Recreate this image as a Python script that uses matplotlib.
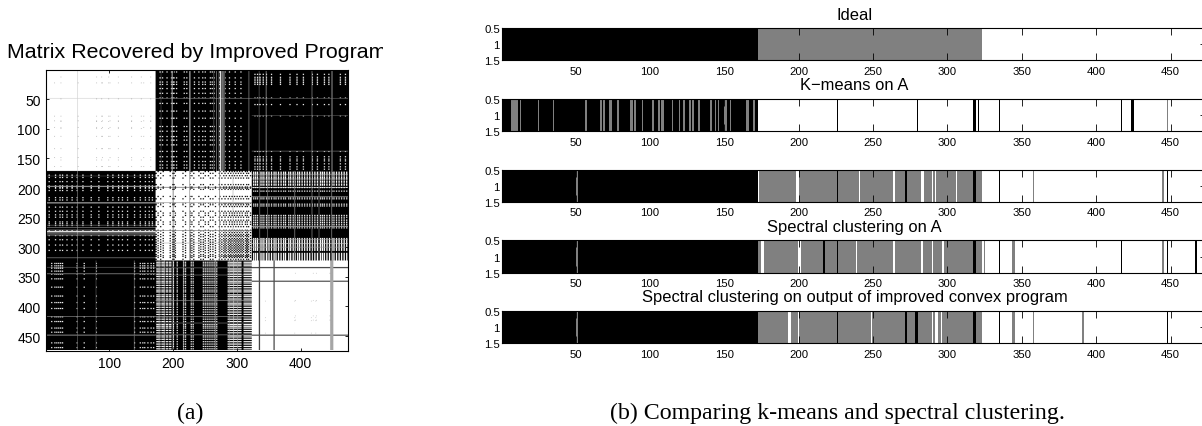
import numpy as np
import matplotlib
matplotlib.use("Agg")
import matplotlib.pyplot as plt
from matplotlib.transforms import Bbox

W, H = 1202, 427

# cluster ranges, 1-indexed and inclusive
c1 = (1, 172)
c2 = (173, 323)
c3 = (324, 474)

# recovered matrix, read block by block (the matrix is close to symmetric)
# block 1-1: white with faint dots
b11_dots_a = [14, 24, 51, 80, 89, 101, 114, 135, 154, 165]
b11_dots_b = [24, 50, 80, 88, 99, 114, 135, 150, 165]
b11_lines = [(50, 0.82)]

# block 1-2: black with bright columns
b12_rows = [5, 15, 22, 26, 33, 41, 49, 58, 71, 83, 97, 105, 114, 120, 128, 139, 148, 156, 162, 167]
b12_cols = [179, 183, 190, 197, 199, 201, 205, 217, 221, 233, 240, 246, 250, 258, 261, 264, 272, 281, 288, 297, 306]
b12_line_rows = [(50, 0.5)]
b12_line_cols = [(181, 0.3), (198, 0.55), (199, 0.6), (226, 0.8), (227, 0.5), (264, 0.45), (268, 0.6), (272, 0.55),
                 (274, 0.8), (275, 1.0), (277, 0.9), (279, 0.6), (281, 0.5), (319, 0.6)]

# block 1-3: black, dots mostly around the edges
b13_rows = [9, 14, 17, 20, 23, 26, 49, 60, 79, 139, 148, 152, 155, 160, 165, 169]
b13_cols = [328, 332, 336, 341, 346, 354, 368, 383, 394, 404, 418, 426, 437, 444, 462, 470]
b13_line_rows = [(50, 0.4), (79, 0.35), (139, 0.5)]
b13_line_cols = [(335, 0.4), (346, 0.7), (418, 0.6), (449, 0.5), (450, 0.4)]

# block 2-2: white with dense dark dots
b22_dots_a = [173, 180, 199, 201, 215, 226, 232, 243, 247, 258, 262, 272, 276, 281, 286, 290, 294, 298, 302, 306, 310, 315, 318]
b22_dots_b = [176, 184, 195, 203, 219, 226, 229, 240, 250, 255, 266, 273, 279, 283, 288, 292, 296, 300, 304, 308, 313, 316, 321]
b22_lines = [(200, 0.3), (226, 0.55), (273, 0.45), (294, 0.7)]

# block 2-3: heavily speckled
b23_rows = [174, 175, 177, 179, 182, 184, 186, 189, 191, 194, 196, 200, 206, 216, 219, 228, 231, 247, 250, 253, 256, 259,
            262, 265, 268, 286, 288, 290, 292, 294, 296, 298, 300, 302, 304, 306, 311, 313, 315, 317, 319, 321, 323]
b23_cols = [326, 329, 332, 336, 339, 342, 346, 350, 354, 358, 361, 365, 369, 373, 376, 381, 384, 388, 391, 395, 398,
            402, 406, 410, 414, 418, 422, 426, 431, 434, 437, 441, 445, 449, 452, 456, 460, 464, 468, 472]
b23_line_rows = [(200, 1.0), (178, 0.6), (216, 0.7), (266, 0.85), (295, 0.8), (301, 0.6), (288, 0.6), (186, 0.6)]
b23_line_cols = [(348, 0.5), (391, 0.6), (418, 0.6), (429, 0.5), (449, 0.6), (336, 0.5)]

# block 3-3: white with a few dark lines
b33_lines = [(335, 0.25), (336, 0.25), (358, 0.3), (359, 0.3), (449, 0.3), (450, 0.3)]
b33_wide_col = [447, 448, 449, 450, 451]
b33_dots_a = [345, 391, 417, 424]
b33_dots_b = [392, 420, 425, 446]

tick_matrix_x = [100, 200, 300, 400]
tick_matrix_y = [50, 100, 150, 200, 250, 300, 350, 400, 450]

# cluster label strips: 1 black, 2 gray, 3 white
strip_sizes = [172, 151, 151]
tick_strip_x = [50, 100, 150, 200, 250, 300, 350, 400, 450]
tick_strip_y = [0.5, 1, 1.5]
tick_strip_labels = ["0.5", "1", "1.5"]

titles = ["Ideal", "K\u2212means on A", "", "Spectral clustering on A",
          "Spectral clustering on output of improved convex program"]

ideal_base = [1, 2, 3]
ideal_black, ideal_gray, ideal_white = [], [], []

kmeans_base = [1, 3, 3]
kmeans_black = [226, 280, 318, 319, 321, 335, 417, 424, 425]
kmeans_gray = [7, 8, 9, 10, 11, 13, 25, 35, 57, 67, 69, 73, 74, 78, 79, 87, 88, 90, 95, 102, 106, 108, 109,
               115, 120, 123, 127, 129, 133, 141, 144, 146, 150, 151, 154, 165, 166, 170, 448]
kmeans_white = []

third_base = [1, 2, 3]
third_black = [226, 272, 318, 319, 335, 448]
third_gray = [51, 358, 445]
third_white = [173, 199, 200, 241, 264, 283, 284, 290, 292, 306]

spectral_base = [1, 2, 3]
spectral_black = [217, 226, 318, 319, 335, 417, 448, 467]
spectral_gray = [51, 325, 344, 345, 445]
spectral_white = [175, 176, 200, 201, 239, 264, 283, 290, 297]

improved_base = [1, 2, 3]
improved_black = [226, 272, 279, 280, 318, 319, 335, 448]
improved_gray = [51, 344, 345, 358, 391]
improved_white = [193, 194, 200, 249, 290, 292, 293, 296]

strips = [
    (ideal_base, ideal_black, ideal_gray, ideal_white),
    (kmeans_base, kmeans_black, kmeans_gray, kmeans_white),
    (third_base, third_black, third_gray, third_white),
    (spectral_base, spectral_black, spectral_gray, spectral_white),
    (improved_base, improved_black, improved_gray, improved_white),
]
strip_tops = [29.3, 100, 170.7, 241.3, 312.3]
strip_bottoms = [61.3, 132.3, 202.7, 273.7, 344.3]
title_baselines = [20, 90, 0, 232, 302]

plt.rcParams["font.family"] = ["Liberation Sans", "DejaVu Sans"]


def px_rect(left, top, right, bottom):
    return [left / W, 1 - bottom / H, (right - left) / W, (bottom - top) / H]


def line(mat, node, span, value):
    mat[node - 1, span[0] - 1:span[1]] = value
    mat[span[0] - 1:span[1], node - 1] = value


def dots(mat, a, b, value, thick=2):
    # each speckle covers a couple of cells, one cell alone is lost at this size
    a = np.array(a) - 1
    b = np.array(b) - 1
    for i in range(thick):
        for j in range(thick):
            mat[np.ix_(np.minimum(a + i, 473), np.minimum(b + j, 473))] = value
            mat[np.ix_(np.minimum(b + j, 473), np.minimum(a + i, 473))] = value


def build_matrix():
    mat = np.zeros((474, 474))
    for c in [c1, c2, c3]:
        mat[c[0] - 1:c[1], c[0] - 1:c[1]] = 1.0

    dots(mat, b12_rows, b12_cols, 1.0)
    dots(mat, b13_rows, b13_cols, 1.0)
    dots(mat, b23_rows, b23_cols, 1.0)
    for n, v in b12_line_rows:
        line(mat, n, c2, v)
    for n, v in b12_line_cols:
        line(mat, n, c1, v)
    for n, v in b13_line_rows:
        line(mat, n, c3, v)
    for n, v in b13_line_cols:
        line(mat, n, c1, v)
    for n, v in b23_line_rows:
        line(mat, n, c3, v)
    for n, v in b23_line_cols:
        line(mat, n, c2, v)

    dots(mat, b11_dots_a, b11_dots_b, 0.45, thick=1)
    for n, v in b11_lines:
        line(mat, n, c1, v)
    dots(mat, b22_dots_a, b22_dots_b, 0.0)
    for n, v in b22_lines:
        line(mat, n, c2, v)
    for n, v in b33_lines:
        line(mat, n, c3, v)
    for n in b33_wide_col:
        mat[c3[0] - 1:c3[1], n - 1] = 0.65
    dots(mat, b33_dots_a, b33_dots_b, 0.6, thick=1)
    return mat


def build_strip(base, black, gray, white):
    labels = np.repeat(base, strip_sizes).astype(float)
    labels[np.array(black, dtype=int) - 1] = 1
    labels[np.array(gray, dtype=int) - 1] = 2
    labels[np.array(white, dtype=int) - 1] = 3
    return labels


def style_axes(ax, length, size, pad):
    for s in ax.spines.values():
        s.set_linewidth(0.8)
    ax.tick_params(direction="in", top=True, right=True, length=length, width=0.6,
                   labelsize=size, pad=pad)


def makeplot():
    fig = plt.figure(figsize=(W / 100, H / 100), dpi=100)

    ax = fig.add_axes(px_rect(46, 71, 348, 351.5))
    ax.imshow(build_matrix(), cmap="gray", vmin=0, vmax=1, aspect="auto",
              extent=[0.5, 474.5, 474.5, 0.5])
    ax.set_xticks(tick_matrix_x)
    ax.set_yticks(tick_matrix_y)
    style_axes(ax, 2.2, 10, 4)

    t = fig.text(197 / W, 1 - 58 / H, "Matrix Recovered by Improved Program", fontsize=15.4,
                 ha="center", va="baseline")
    t.set_clip_box(Bbox([[0, 0], [383, H]]))
    t.set_clip_on(True)

    for i, strip in enumerate(strips):
        ax = fig.add_axes(px_rect(502, strip_tops[i], 1207, strip_bottoms[i]))
        ax.imshow(build_strip(*strip)[np.newaxis, :], cmap="gray", vmin=1, vmax=3, aspect="auto",
                  interpolation="nearest", extent=[0.5, 474.5, 1.5, 0.5])
        ax.set_xticks(tick_strip_x)
        ax.set_yticks(tick_strip_y)
        ax.set_yticklabels(tick_strip_labels)
        style_axes(ax, 5, 8.2, 4)
        ax.tick_params(axis="y", pad=1.5)
        if titles[i]:
            fig.text(854.5 / W, 1 - title_baselines[i] / H, titles[i], fontsize=11.9,
                     ha="center", va="baseline")

    fig.text(190 / W, 1 - 419 / H, "(a)", fontsize=17.2, family="Liberation Serif",
             ha="center", va="baseline")
    fig.text(837.5 / W, 1 - 419 / H, "(b) Comparing k-means and spectral clustering.", fontsize=17.2,
             family="Liberation Serif", ha="center", va="baseline")

    fig.savefig("out.png", dpi=100)


if __name__ == "__main__":
    makeplot()
